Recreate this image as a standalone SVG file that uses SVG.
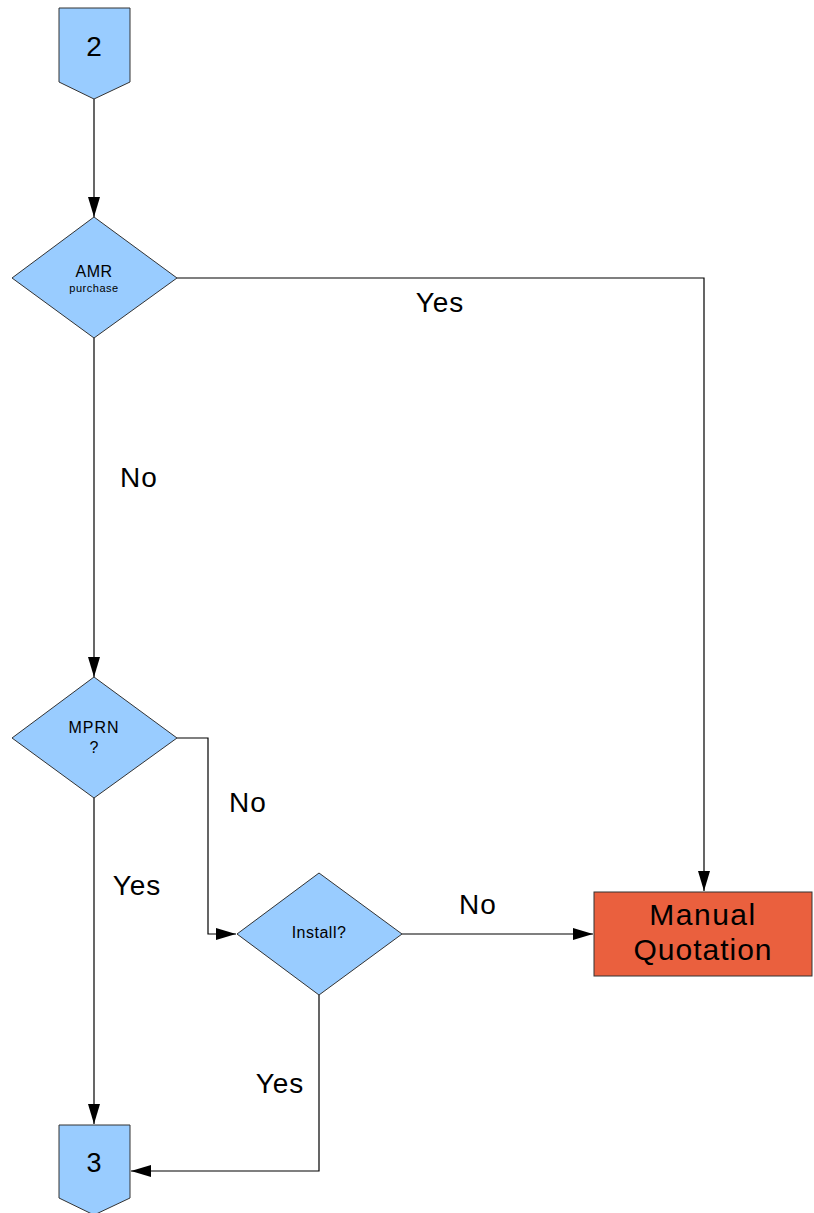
<svg xmlns="http://www.w3.org/2000/svg" width="814" height="1213" viewBox="0 0 814 1213">
  <style>
    .shape { fill: #99ccff; stroke: #333333; stroke-width: 1; }
    .proc { fill: #ea603e; stroke: #333333; stroke-width: 1; }
    .wire { fill: none; stroke: #000000; stroke-width: 1.2; }
    text { font-family: "Liberation Sans", Arial, sans-serif; fill: #000000; text-anchor: middle; }
    .lbl { font-size: 28px; letter-spacing: 1px; }
  </style>
  <defs>
    <marker id="arrow" viewBox="0 0 20 12" refX="20" refY="6" markerWidth="20" markerHeight="12" markerUnits="userSpaceOnUse" orient="auto">
      <path d="M0,0 L20,6 L0,12 Z" fill="#000000"/>
    </marker>
  </defs>

  <rect width="814" height="1213" fill="#ffffff"/>

  <g id="connectors">
    <path class="wire" d="M94,99 L94,217" marker-end="url(#arrow)"/>
    <path class="wire" d="M177,278 L704,278 L704,891" marker-end="url(#arrow)"/>
    <path class="wire" d="M94,338 L94,677" marker-end="url(#arrow)"/>
    <path class="wire" d="M177,738 L208,738 L208,934 L236,934" marker-end="url(#arrow)"/>
    <path class="wire" d="M402,934 L593,934" marker-end="url(#arrow)"/>
    <path class="wire" d="M94,798 L94,1124" marker-end="url(#arrow)"/>
    <path class="wire" d="M319,995 L319,1171 L131,1171" marker-end="url(#arrow)"/>
    <text class="lbl" x="440" y="312">Yes</text>
    <text class="lbl" x="139" y="487">No</text>
    <text class="lbl" x="248" y="812">No</text>
    <text class="lbl" x="137" y="895">Yes</text>
    <text class="lbl" x="478" y="914">No</text>
    <text class="lbl" x="280" y="1093">Yes</text>
  </g>

  <g id="page2">
    <path class="shape" d="M59,8 L130,8 L130,82 L94,99 L59,82 Z"/>
    <text x="94" y="56" font-size="28">2</text>
  </g>

  <g id="amr">
    <path class="shape" d="M94,217 L177,278 L94,338 L12,278 Z"/>
    <text x="94" y="277" font-size="16" letter-spacing="0.5">AMR</text>
    <text x="94" y="292" font-size="11" letter-spacing="0.5">purchase</text>
  </g>

  <g id="mprn">
    <path class="shape" d="M94,677 L177,738 L94,798 L12,738 Z"/>
    <text x="94" y="733" font-size="16" letter-spacing="1">MPRN</text>
    <text x="94" y="753" font-size="16">?</text>
  </g>

  <g id="install">
    <path class="shape" d="M319,873 L402,934 L319,995 L237,934 Z"/>
    <text x="319" y="938" font-size="16" letter-spacing="0.5">Install?</text>
  </g>

  <g id="manual">
    <rect class="proc" x="594" y="892" width="218" height="84"/>
    <text x="703" y="925" font-size="30" letter-spacing="1.5">Manual</text>
    <text x="703" y="960" font-size="30" letter-spacing="1">Quotation</text>
  </g>

  <g id="page3">
    <path class="shape" d="M59,1125 L130,1125 L130,1198 L94,1215 L59,1198 Z"/>
    <text x="94" y="1172" font-size="27">3</text>
  </g>
</svg>
